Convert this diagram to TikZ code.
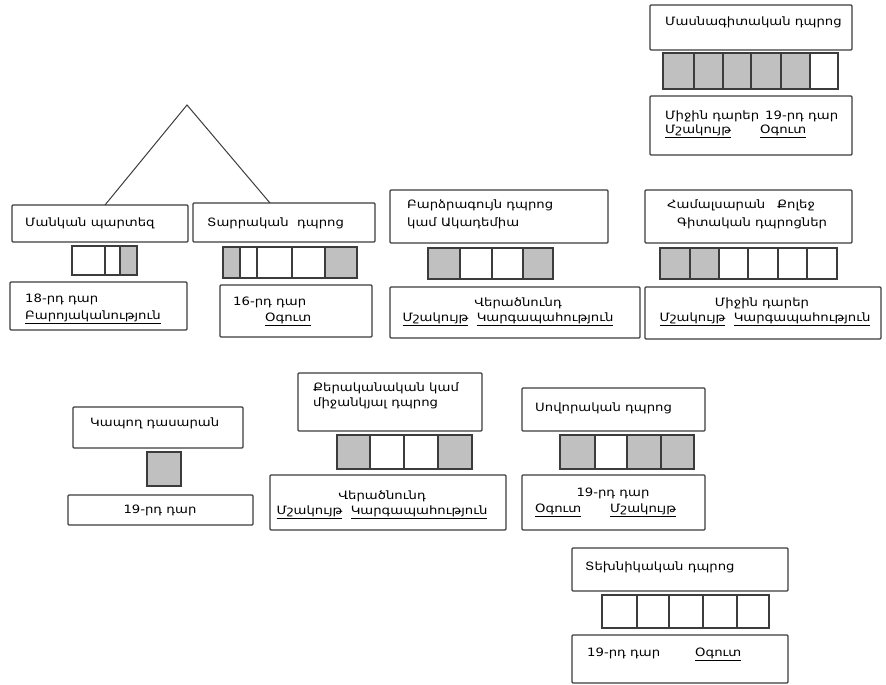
\documentclass[tikz,border=0pt]{standalone}
\usepackage{fontspec}
\setmainfont{DejaVu Sans}[FakeStretch=1.15]
\usetikzlibrary{calc}
\definecolor{cgray}{RGB}{192,192,192}
\definecolor{lcol}{RGB}{60,60,60}
\begin{document}
\begin{tikzpicture}[x=1pt,y=-1pt,
  box/.style={draw=lcol,line width=1.1pt,rounded corners=1pt,inner sep=0pt,outer sep=0pt,anchor=north west},
  cellw/.style={draw=lcol,line width=1.1pt,fill=white,inner sep=0pt,outer sep=0pt,anchor=north west},
  cellg/.style={draw=lcol,line width=1.1pt,fill=cgray,inner sep=0pt,outer sep=0pt,anchor=north west},
  txt/.style={inner sep=0pt,text height=8pt,text depth=2pt,font=\fontsize{11.5}{13}\selectfont},
  link/.style={draw=lcol,line width=1pt}]
\useasboundingbox (0,0) rectangle (886,685);
% ---------- Group A
\node[box,minimum width=202pt,minimum height=45pt] (b1) at (650,5) {};
\node[txt,anchor=west] (t1) at (665,23) {Մասնագիտական դպրոց};
\foreach \a/\b/\s [count=\i] in {663/694/cellg,694/723/cellg,723/751/cellg,751/781/cellg,781/810/cellg,810/838/cellw}
  \node[\s,minimum width={(\b-\a)*1pt},minimum height=36pt] (ca\i) at (\a,53) {};
\node[box,minimum width=202pt,minimum height=59pt] (b2) at (650,96) {};
\node[txt,anchor=west] (t2a) at (665,116) {Միջին դարեր};
\node[txt,anchor=west] (t2b) at (765,116) {19-րդ դար};
\node[txt,anchor=west] (t2c) at (665,130) {\underline{Մշակույթ}};
\node[txt,anchor=west] (t2d) at (760,130) {\underline{Օգուտ}};
% ---------- Group B
\node[box,minimum width=176pt,minimum height=37pt] (b3) at (12,205) {};
\node[txt,anchor=west] (t3) at (25,223) {Մանկան պարտեզ};
\foreach \a/\b/\s [count=\i] in {72/105/cellw,105/120/cellw,120/137/cellg}
  \node[\s,minimum width={(\b-\a)*1pt},minimum height=29pt] (cb\i) at (\a,246) {};
\node[box,minimum width=177pt,minimum height=48pt] (b4) at (10,282) {};
\node[txt,anchor=west] (t4a) at (25,299) {18-րդ դար};
\node[txt,anchor=west] (t4b) at (25,316) {\underline{Բարոյականություն}};
% ---------- Group C
\node[box,minimum width=182pt,minimum height=39pt] (b5) at (193,203) {};
\node[txt,anchor=west] (t5) at (207,223) {Տարրական\ \ դպրոց};
\foreach \a/\b/\s [count=\i] in {223/240/cellg,240/257/cellw,257/292/cellw,292/325/cellw,325/357/cellg}
  \node[\s,minimum width={(\b-\a)*1pt},minimum height=31pt] (cc\i) at (\a,247) {};
\node[box,minimum width=152pt,minimum height=52pt] (b6) at (220,285) {};
\node[txt,anchor=west] (t6a) at (233,302) {16-րդ դար};
\node[txt,anchor=west] (t6b) at (265,318) {\underline{Օգուտ}};
% triangle
\coordinate (apex) at (187,105);
\draw[link] ($(b3.north west)+(93,0)$) -- (apex) -- ($(b5.north west)+(77,0)$);
% ---------- Group D
\node[box,minimum width=218pt,minimum height=53pt] (b7) at (390,190) {};
\node[txt,anchor=west] (t7a) at (407,205) {Բարձրագույն դպրոց};
\node[txt,anchor=west] (t7b) at (407,223) {կամ Ակադեմիա};
\foreach \a/\b/\s [count=\i] in {428/460/cellg,460/492/cellw,492/523/cellw,523/553/cellg}
  \node[\s,minimum width={(\b-\a)*1pt},minimum height=31pt] (cd\i) at (\a,248) {};
\node[box,minimum width=250pt,minimum height=51pt] (b8) at (390,287) {};
\node[txt] (t8a) at (518,303) {Վերածնունդ};
\node[txt] (t8b) at (508,318) {\underline{Մշակույթ}\ \ \underline{Կարգապահություն}};
% ---------- Group E
\node[box,minimum width=207pt,minimum height=53pt] (b9) at (645,190) {};
\node[txt,anchor=west] (t9a) at (667,205) {Համալսարան};
\node[txt,anchor=west] (t9b) at (777,205) {Քոլեջ};
\node[txt,anchor=west] (t9c) at (677,223) {Գիտական դպրոցներ};
\foreach \a/\b/\s [count=\i] in {660/690/cellg,690/719/cellg,719/748/cellw,748/778/cellw,778/807/cellw,807/837/cellw}
  \node[\s,minimum width={(\b-\a)*1pt},minimum height=31pt] (ce\i) at (\a,248) {};
\node[box,minimum width=236pt,minimum height=52pt] (b10) at (645,287) {};
\node[txt] (t10a) at (762,303) {Միջին դարեր};
\node[txt] (t10b) at (765,318) {\underline{Մշակույթ}\ \ \underline{Կարգապահություն}};
% ---------- Group F
\node[box,minimum width=170pt,minimum height=41pt] (b11) at (73,407) {};
\node[txt,anchor=west] (t11) at (90,423) {Կապող դասարան};
\node[cellg,minimum width=34pt,minimum height=34pt] (cf1) at (147,452) {};
\node[box,minimum width=185pt,minimum height=30pt] (b12) at (68,495) {};
\node[txt] (t12) at (160,510) {19-րդ դար};
% ---------- Group G
\node[box,minimum width=184pt,minimum height=58pt] (b13) at (298,373) {};
\node[txt,anchor=west] (t13a) at (313,388) {Քերականական կամ};
\node[txt,anchor=west] (t13b) at (313,403) {միջանկյալ դպրոց};
\foreach \a/\b/\s [count=\i] in {337/370/cellg,370/404/cellw,404/438/cellw,438/472/cellg}
  \node[\s,minimum width={(\b-\a)*1pt},minimum height=34pt] (cg\i) at (\a,435) {};
\node[box,minimum width=236pt,minimum height=55pt] (b14) at (270,475) {};
\node[txt] (t14a) at (382,496) {Վերածնունդ};
\node[txt] (t14b) at (382,511) {\underline{Մշակույթ}\ \ \underline{Կարգապահություն}};
% ---------- Group H
\node[box,minimum width=183pt,minimum height=43pt] (b15) at (522,388) {};
\node[txt,anchor=west] (t15) at (535,408) {Սովորական դպրոց};
\foreach \a/\b/\s [count=\i] in {560/595/cellg,595/627/cellw,627/661/cellg,661/694/cellg}
  \node[\s,minimum width={(\b-\a)*1pt},minimum height=34pt] (ch\i) at (\a,435) {};
\node[box,minimum width=183pt,minimum height=55pt] (b16) at (522,475) {};
\node[txt] (t16a) at (613,493) {19-րդ դար};
\node[txt,anchor=west] (t16b) at (535,509) {\underline{Օգուտ}};
\node[txt,anchor=west] (t16c) at (610,509) {\underline{Մշակույթ}};
% ---------- Group I
\node[box,minimum width=216pt,minimum height=43pt] (b17) at (572,548) {};
\node[txt,anchor=west] (t17) at (585,567) {Տեխնիկական դպրոց};
\foreach \a/\b [count=\i] in {602/637,637/669,669/703,703/737,737/769}
  \node[cellw,minimum width={(\b-\a)*1pt},minimum height=33pt] (ci\i) at (\a,595) {};
\node[box,minimum width=216pt,minimum height=48pt] (b18) at (572,635) {};
\node[txt,anchor=west] (t18a) at (587,653) {19-րդ դար};
\node[txt,anchor=west] (t18b) at (695,653) {\underline{Օգուտ}};
\end{tikzpicture}
\end{document}
